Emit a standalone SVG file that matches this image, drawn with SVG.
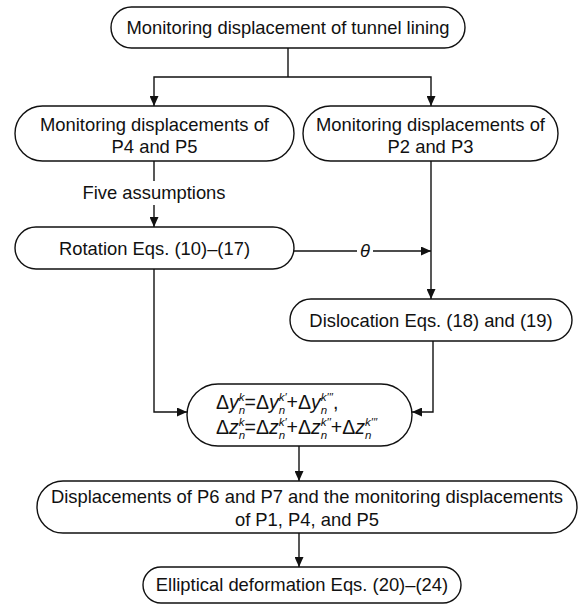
<svg xmlns="http://www.w3.org/2000/svg" width="580" height="607" viewBox="0 0 580 607">
<defs>
<marker id="ah" markerUnits="userSpaceOnUse" markerWidth="10" markerHeight="9" refX="10" refY="4.5" orient="auto">
<path d="M0,0 L10,4.5 L0,9 z" fill="#111"/>
</marker>
</defs>
<style>
.box{fill:#fff;stroke:#111;stroke-width:1.4}
.t{font-family:"Liberation Sans",Arial,sans-serif;font-size:18.4px;fill:#111;text-anchor:middle}
.e{font-family:"Liberation Sans",Arial,sans-serif;font-size:19.5px;fill:#111}
.i{font-style:italic}
.s{font-size:11.5px;font-style:italic}
.c{fill:none;stroke:#111;stroke-width:1.4}
.a{marker-end:url(#ah)}
</style>
<rect width="580" height="607" fill="#fff"/>
<g id="connectors">
<path class="c" d="M288,48 V77"/>
<path class="c a" d="M288,77 H154 V106"/>
<path class="c a" d="M288,77 H431 V106"/>
<path class="c" d="M154,161 V181"/>
<path class="c a" d="M154,205 V227"/>
<path class="c" d="M294,251 H357"/>
<path class="c a" d="M373,251 H431"/>
<path class="c a" d="M431,161 V299"/>
<path class="c a" d="M154,269 V412 H187"/>
<path class="c a" d="M433,341 V412 H412"/>
<path class="c a" d="M299,446 V481"/>
<path class="c a" d="M299,533 V567"/>
<text class="t" x="154" y="199">Five assumptions</text>
<text class="t i" x="365" y="257">θ</text>
</g>
<g id="n1">
<rect class="box" x="111" y="7" width="354" height="41" rx="20.5"/>
<text class="t" x="288" y="34">Monitoring displacement of tunnel lining</text>
</g>
<g id="n2">
<rect class="box" x="15" y="106" width="279" height="55" rx="27.5"/>
<text class="t" x="154.5" y="131">Monitoring displacements of</text>
<text class="t" x="154.5" y="153">P4 and P5</text>
</g>
<g id="n3">
<rect class="box" x="303" y="106" width="255" height="55" rx="27.5"/>
<text class="t" x="430.5" y="131">Monitoring displacements of</text>
<text class="t" x="430.5" y="153">P2 and P3</text>
</g>
<g id="n4">
<rect class="box" x="15" y="227" width="279" height="42" rx="21"/>
<text class="t" x="154.5" y="254.5">Rotation Eqs. (10)–(17)</text>
</g>
<g id="n5">
<rect class="box" x="290" y="299" width="282" height="42" rx="21"/>
<text class="t" x="431" y="326.5">Dislocation Eqs. (18) and (19)</text>
</g>
<g id="n6">
<rect class="box" x="187" y="384" width="225" height="62" rx="31"/>
<text class="e" x="216" y="409">Δ<tspan class="i">y</tspan><tspan class="s" dy="5">n</tspan><tspan class="s" dx="-6.4" dy="-13">k</tspan><tspan dy="8">=Δ</tspan><tspan class="i">y</tspan><tspan class="s" dy="5">n</tspan><tspan class="s" dx="-6.4" dy="-13">k′</tspan><tspan dy="8">+Δ</tspan><tspan class="i">y</tspan><tspan class="s" dy="5">n</tspan><tspan class="s" dx="-6.4" dy="-13">k′′′</tspan><tspan dy="8">,</tspan></text>
<text class="e" x="216" y="434">Δ<tspan class="i">z</tspan><tspan class="s" dy="5">n</tspan><tspan class="s" dx="-6.4" dy="-13">k</tspan><tspan dy="8">=Δ</tspan><tspan class="i">z</tspan><tspan class="s" dy="5">n</tspan><tspan class="s" dx="-6.4" dy="-13">k′</tspan><tspan dy="8">+Δ</tspan><tspan class="i">z</tspan><tspan class="s" dy="5">n</tspan><tspan class="s" dx="-6.4" dy="-13">k′′</tspan><tspan dy="8">+Δ</tspan><tspan class="i">z</tspan><tspan class="s" dy="5">n</tspan><tspan class="s" dx="-6.4" dy="-13">k′′′</tspan></text>
</g>
<g id="n7">
<rect class="box" x="37" y="481" width="540" height="52" rx="26"/>
<text class="t" x="307" y="503">Displacements of P6 and P7 and the monitoring displacements</text>
<text class="t" x="307" y="526">of P1, P4, and P5</text>
</g>
<g id="n8">
<rect class="box" x="143" y="567" width="318" height="36" rx="18"/>
<text class="t" x="302" y="591">Elliptical deformation Eqs. (20)–(24)</text>
</g>
</svg>
